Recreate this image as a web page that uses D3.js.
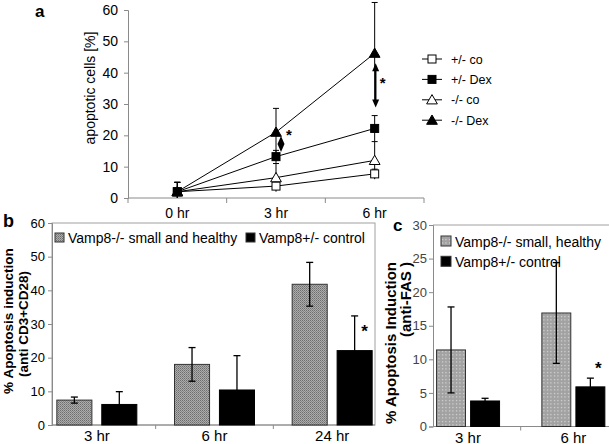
<!DOCTYPE html>
<html><head><meta charset="utf-8">
<script src="https://cdn.jsdelivr.net/npm/d3@7"></script>
<style>
html,body{margin:0;padding:0;background:#fff;}
svg{display:block;font-family:"Liberation Sans",Arial,sans-serif;}
</style></head>
<body>
<svg id="chart" width="609" height="444"></svg>
<script>
// ---------- DATA ----------
// Panel a
const aCategories = ["0 hr", "3 hr", "6 hr"];
const aTicks = [0, 10, 20, 30, 40, 50, 60];
const aSeriesNames = ["+/- co", "+/- Dex", "-/- co", "-/- Dex"];
const aHetCo = [2, 3.8, 7.7];
const aHetCoErr = [3, 1, 1.5];
const aHetDex = [2, 13.2, 22.2];
const aHetDexErr = [3, 2, 4.1];
const aKoCo = [2, 6.5, 12];
const aKoCoErr = [3, 4.5, 6];
const aKoDex = [2, 21, 46.2];
const aKoDexErr = [3, 7.6, 16.2];
const aArrowCats = ["3 hr", "6 hr"];
const aArrowFrom = [19.8, 43];
const aArrowTo = [14.7, 28.9];
const aStarValues = [21.4, 38];

// Panel b
const bCategories = ["3 hr", "6 hr", "24 hr"];
const bTicks = [0, 10, 20, 30, 40, 50, 60];
const bSeriesNames = ["Vamp8-/- small and healthy", "Vamp8+/- control"];
const bKo = [7.4, 18.0, 41.8];
const bKoErr = [0.9, 5.0, 6.5];
const bCtrl = [6.1, 10.4, 22.1];
const bCtrlErr = [3.8, 10.2, 10.3];

// Panel c
const cCategories = ["3 hr", "6 hr"];
const cTicks = [0, 5, 10, 15, 20, 25, 30];
const cSeriesNames = ["Vamp8-/- small, healthy", "Vamp8+/- control"];
const cKo = [11.4, 16.9];
const cKoErr = [6.4, 7.5];
const cCtrl = [3.8, 5.9];
const cCtrlErr = [0.4, 1.3];

// ---------- DRAW ----------
const svg = d3.select("#chart");
const FONT = '"Liberation Sans",Arial,sans-serif';
const AXIS = "#8a8a8a";

// patterns
const defs = svg.append("defs");
const pb = defs.append("pattern").attr("id", "patB").attr("width", 2).attr("height", 2)
  .attr("patternUnits", "userSpaceOnUse");
pb.append("rect").attr("width", 2).attr("height", 2).attr("fill", "#acacac");
pb.append("rect").attr("width", 1).attr("height", 1).attr("fill", "#6e6e6e");
pb.append("rect").attr("x", 1).attr("y", 1).attr("width", 1).attr("height", 1).attr("fill", "#858585");
const pc = defs.append("pattern").attr("id", "patC").attr("width", 3.5).attr("height", 3.5)
  .attr("patternUnits", "userSpaceOnUse");
pc.append("rect").attr("width", 3.5).attr("height", 3.5).attr("fill", "#a2a2a2");
pc.append("rect").attr("x", 1).attr("y", 1).attr("width", 1).attr("height", 1).attr("fill", "#f4f4f4");

// ===== Panel a =====
const ax = d3.scaleBand().domain(aCategories).range([128, 424]);
const ay = d3.scaleLinear().domain([0, 60]).range([198, 10]);
const ga = svg.append("g");

ga.append("text").attr("x", 35).attr("y", 17).text("a")
  .attr("font-size", 17).attr("font-weight", "bold");

// y axis
const ayAxis = ga.append("g").attr("transform", "translate(128,0)")
  .call(d3.axisLeft(ay).tickValues(aTicks).tickSize(4).tickPadding(6).tickFormat(d3.format("d")));
ayAxis.select(".domain").attr("stroke", AXIS);
ayAxis.selectAll(".tick line").attr("stroke", AXIS);
ayAxis.selectAll("text").attr("font-size", 14).attr("font-family", FONT).attr("fill", "#000");

// x axis
const axAxis = ga.append("g").attr("transform", "translate(0,198)");
axAxis.append("line").attr("x1", 128).attr("x2", 424).attr("stroke", AXIS);
const aBounds = aCategories.map(c => ax(c)).concat([ax.range()[1]]);
axAxis.selectAll("line.tk").data(aBounds).join("line").attr("class", "tk")
  .attr("x1", d => d).attr("x2", d => d).attr("y1", 0).attr("y2", 5).attr("stroke", AXIS);
axAxis.selectAll("text").data(aCategories).join("text")
  .attr("x", d => ax(d) + ax.bandwidth() / 2).attr("y", 20).attr("text-anchor", "middle")
  .attr("font-size", 14).text(d => d);

ga.append("text").attr("transform", "translate(95,88) rotate(-90)")
  .attr("text-anchor", "middle").attr("font-size", 14).text("apoptotic cells [%]");

const aSeries = [
  {name: aSeriesNames[0], vals: aHetCo, err: aHetCoErr, shape: "square", fill: "#fff"},
  {name: aSeriesNames[1], vals: aHetDex, err: aHetDexErr, shape: "square", fill: "#000"},
  {name: aSeriesNames[2], vals: aKoCo, err: aKoCoErr, shape: "triangle", fill: "#fff"},
  {name: aSeriesNames[3], vals: aKoDex, err: aKoDexErr, shape: "triangle", fill: "#000"}
];
const cx = c => ax(c) + ax.bandwidth() / 2;
const line = d3.line().x(d => cx(d.c)).y(d => ay(d.v));

// error bars (both directions)
aSeries.forEach(s => {
  const pts = aCategories.map((c, i) => ({c, v: s.vals[i], e: s.err[i]}));
  const eg = ga.append("g").attr("stroke", "#000").attr("stroke-width", 1);
  pts.forEach(p => {
    eg.append("line").attr("x1", cx(p.c)).attr("x2", cx(p.c))
      .attr("y1", ay(p.v + p.e)).attr("y2", ay(Math.max(0, p.v - p.e)));
    eg.append("line").attr("x1", cx(p.c) - 3).attr("x2", cx(p.c) + 3)
      .attr("y1", ay(p.v + p.e)).attr("y2", ay(p.v + p.e));
  });
});
aSeries.forEach(s => {
  const pts = aCategories.map((c, i) => ({c, v: s.vals[i]}));
  ga.append("path").datum(pts).attr("d", line).attr("fill", "none").attr("stroke", "#000").attr("stroke-width", 1);
});
function marker(g, shape, fill, x, y) {
  if (shape === "square") {
    g.append("rect").attr("x", x - 4).attr("y", y - 4).attr("width", 8).attr("height", 8)
      .attr("fill", fill).attr("stroke", "#000").attr("stroke-width", 1);
  } else {
    g.append("path").attr("d", d3.symbol().type(d3.symbolTriangle).size(50)())
      .attr("transform", `translate(${x},${y + 1})`)
      .attr("fill", fill).attr("stroke", "#000").attr("stroke-width", 1);
  }
}
aSeries.forEach(s => {
  aCategories.forEach((c, i) => marker(ga, s.shape, s.fill, cx(c), ay(s.vals[i])));
});

// double arrows and stars
const arrowX = [5, 1];
aArrowCats.forEach((c, i) => {
  const x = cx(c) + arrowX[i];
  const y1 = ay(aArrowFrom[i]), y2 = ay(aArrowTo[i]);
  ga.append("line").attr("x1", x).attr("x2", x).attr("y1", y1 + 6).attr("y2", y2 - 6)
    .attr("stroke", "#000").attr("stroke-width", 1.6);
  ga.append("path").attr("d", `M${x},${y1} L${x - 3.5},${y1 + 8} L${x + 3.5},${y1 + 8} Z`).attr("fill", "#000");
  ga.append("path").attr("d", `M${x},${y2} L${x - 3.5},${y2 - 8} L${x + 3.5},${y2 - 8} Z`).attr("fill", "#000");
  ga.append("text").attr("x", cx(c) + [13, 8][i]).attr("y", ay(aStarValues[i]) + 9)
    .attr("text-anchor", "middle").attr("font-size", 15).attr("font-weight", "bold").text("*");
});

// legend a
aSeries.forEach((s, i) => {
  const y = 59 + i * 20.4;
  ga.append("line").attr("x1", 422).attr("x2", 442).attr("y1", y).attr("y2", y).attr("stroke", "#000");
  marker(ga, s.shape, s.fill, 432, y);
  ga.append("text").attr("x", 451).attr("y", y + 4.5).attr("font-size", 12.5).text(s.name);
});

// ===== Panel b =====
const bx = d3.scaleBand().domain(bCategories).range([38, 391]);
const by = d3.scaleLinear().domain([0, 60]).range([425, 223]);
const bsub = d3.scaleBand().domain([0, 1]).range([bx.bandwidth() / 2 - 40, bx.bandwidth() / 2 + 40]).paddingInner(0.22);
const gb = svg.append("g");

gb.append("text").attr("x", 3).attr("y", 227).text("b").attr("font-size", 18).attr("font-weight", "bold");

gb.append("rect").attr("x", 52).attr("y", 223).attr("width", 323).attr("height", 202)
  .attr("fill", "none").attr("stroke", "#a0a0a0");

const byAxis = gb.append("g").attr("transform", "translate(52,0)")
  .call(d3.axisLeft(by).tickValues(bTicks).tickSize(4).tickPadding(3).tickFormat(d3.format("d")));
byAxis.select(".domain").attr("stroke", AXIS);
byAxis.selectAll(".tick line").attr("stroke", AXIS);
byAxis.selectAll("text").attr("font-size", 13).attr("font-family", FONT).attr("fill", "#000");

const bxg = gb.append("g").attr("transform", "translate(0,425)");
bxg.append("line").attr("x1", 52).attr("x2", 375).attr("stroke", AXIS);
bxg.selectAll("line.tk").data(bCategories.slice(1)).join("line").attr("class", "tk")
  .attr("x1", d => bx(d)).attr("x2", d => bx(d)).attr("y1", 0).attr("y2", 4).attr("stroke", AXIS);
bxg.selectAll("text").data(bCategories).join("text")
  .attr("x", d => bx(d) + bx.bandwidth() / 2).attr("y", 16).attr("text-anchor", "middle")
  .attr("font-size", 15).text(d => d);

const bSeries = [
  {vals: bKo, err: bKoErr, fill: "url(#patB)", stroke: "#333"},
  {vals: bCtrl, err: bCtrlErr, fill: "#000", stroke: "#000"}
];
bSeries.forEach((s, si) => {
  bCategories.forEach((c, i) => {
    const x = bx(c) + bsub(si), w = bsub.bandwidth();
    gb.append("rect").attr("x", x).attr("y", by(s.vals[i])).attr("width", w)
      .attr("height", by(0) - by(s.vals[i])).attr("fill", s.fill).attr("stroke", s.stroke).attr("stroke-width", 1);
    const xm = x + w / 2, t = by(s.vals[i] + s.err[i]), b = by(s.vals[i] - s.err[i]);
    gb.append("line").attr("x1", xm).attr("x2", xm).attr("y1", t).attr("y2", b).attr("stroke", "#000").attr("stroke-width", 1.3);
    [t, b].forEach(yy => gb.append("line").attr("x1", xm - 3.5).attr("x2", xm + 3.5).attr("y1", yy).attr("y2", yy)
      .attr("stroke", "#000").attr("stroke-width", 1.3));
  });
});
gb.append("text").attr("x", bx("24 hr") + bsub(1) + bsub.bandwidth() / 2 + 10)
  .attr("y", by(bCtrl[2] + bCtrlErr[2]) + 21).attr("text-anchor", "middle")
  .attr("font-size", 17).attr("font-weight", "bold").text("*");

// legend b
const bLegX = [55, 246];
bSeriesNames.forEach((n, i) => {
  gb.append("rect").attr("x", bLegX[i]).attr("y", 233).attr("width", 9).attr("height", 9)
    .attr("fill", bSeries[i].fill).attr("stroke", "#333");
  gb.append("text").attr("x", bLegX[i] + 13).attr("y", 243).attr("font-size", 14).text(n);
});

gb.append("text").attr("transform", "translate(13,321) rotate(-90)").attr("text-anchor", "middle")
  .attr("font-size", 13.5).attr("font-weight", "bold").text("% Apoptosis induction");
gb.append("text").attr("transform", "translate(28,324) rotate(-90)").attr("text-anchor", "middle")
  .attr("font-size", 13.5).attr("font-weight", "bold").text("(anti CD3+CD28)");

// ===== Panel c =====
const cxs = d3.scaleBand().domain(cCategories).range([415.4, 626]);
const cy = d3.scaleLinear().domain([0, 30]).range([426.5, 225]);
const csub = d3.scaleBand().domain([0, 1]).range([cxs.bandwidth() / 2 - 31.5, cxs.bandwidth() / 2 + 31.5]).paddingInner(0.15);
const gc = svg.append("g");

gc.append("text").attr("x", 393).attr("y", 231).text("c").attr("font-size", 17).attr("font-weight", "bold");
gc.append("line").attr("x1", 433).attr("x2", 609).attr("y1", 225).attr("y2", 225).attr("stroke", "#a0a0a0");

const cyAxis = gc.append("g").attr("transform", "translate(433,0)")
  .call(d3.axisLeft(cy).tickValues(cTicks).tickSize(4).tickPadding(2).tickFormat(d3.format("d")));
cyAxis.select(".domain").attr("stroke", AXIS);
cyAxis.selectAll(".tick line").attr("stroke", AXIS);
cyAxis.selectAll("text").attr("font-size", 13).attr("font-family", FONT).attr("fill", "#444");

const cxg = gc.append("g").attr("transform", "translate(0,426.5)");
cxg.append("line").attr("x1", 433).attr("x2", 609).attr("stroke", AXIS);
cxg.selectAll("line.tk").data(cCategories.slice(1)).join("line").attr("class", "tk")
  .attr("x1", d => cxs(d)).attr("x2", d => cxs(d)).attr("y1", 0).attr("y2", 4).attr("stroke", AXIS);
cxg.selectAll("text").data(cCategories).join("text")
  .attr("x", d => cxs(d) + cxs.bandwidth() / 2).attr("y", 16).attr("text-anchor", "middle")
  .attr("font-size", 15).text(d => d);

const cSeries = [
  {vals: cKo, err: cKoErr, fill: "url(#patC)", stroke: "#333"},
  {vals: cCtrl, err: cCtrlErr, fill: "#000", stroke: "#000"}
];
cSeries.forEach((s, si) => {
  cCategories.forEach((c, i) => {
    const x = cxs(c) + csub(si), w = csub.bandwidth();
    gc.append("rect").attr("x", x).attr("y", cy(s.vals[i])).attr("width", w)
      .attr("height", cy(0) - cy(s.vals[i])).attr("fill", s.fill).attr("stroke", s.stroke).attr("stroke-width", 1);
    const xm = x + w / 2, t = cy(s.vals[i] + s.err[i]), b = cy(s.vals[i] - s.err[i]);
    gc.append("line").attr("x1", xm).attr("x2", xm).attr("y1", t).attr("y2", b).attr("stroke", "#000").attr("stroke-width", 1.3);
    [t, b].forEach(yy => gc.append("line").attr("x1", xm - 3.5).attr("x2", xm + 3.5).attr("y1", yy).attr("y2", yy)
      .attr("stroke", "#000").attr("stroke-width", 1.3));
  });
});
gc.append("text").attr("x", cxs("6 hr") + csub(1) + csub.bandwidth() / 2 + 8)
  .attr("y", cy(cCtrl[1] + cCtrlErr[1]) - 4).attr("text-anchor", "middle")
  .attr("font-size", 17).attr("font-weight", "bold").text("*");

// legend c
cSeriesNames.forEach((n, i) => {
  const y = 241 + i * 20.3;
  gc.append("rect").attr("x", 441).attr("y", y - 5).attr("width", 10).attr("height", 10)
    .attr("fill", cSeries[i].fill).attr("stroke", "#333");
  gc.append("text").attr("x", 455).attr("y", y + 5.5).attr("font-size", 14).text(n);
});

gc.append("text").attr("transform", "translate(396,262) rotate(-90)").attr("text-anchor", "end")
  .attr("font-size", 15).attr("font-weight", "bold").text("% Apoptosis Induction");
gc.append("text").attr("transform", "translate(411,262) rotate(-90)").attr("text-anchor", "end")
  .attr("font-size", 15).attr("font-weight", "bold").text("(anti-FAS )");
</script>
</body></html>
